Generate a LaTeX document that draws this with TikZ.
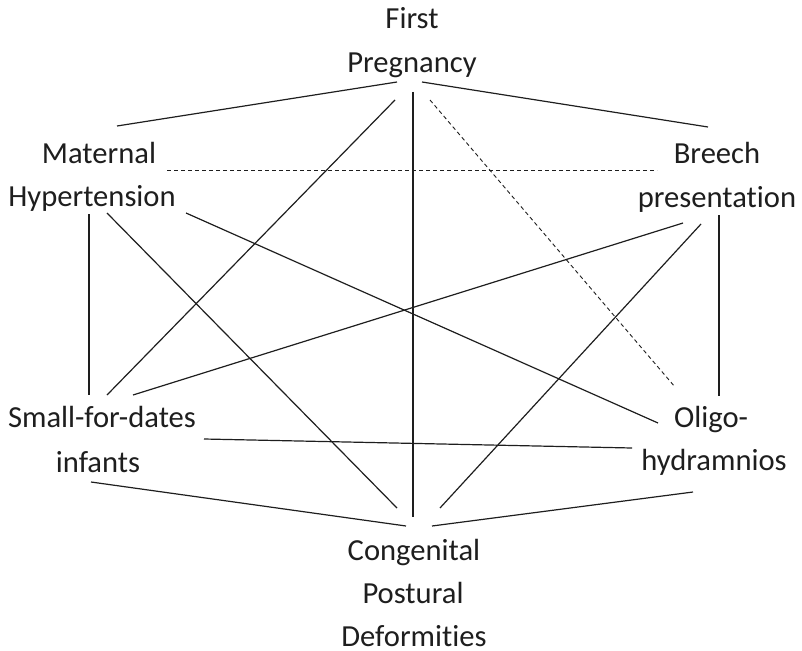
\documentclass[tikz,border=0pt]{standalone}
\usepackage{fontspec}
\setmainfont[Ligatures=NoCommon]{Carlito}
\usetikzlibrary{calc}
\definecolor{ink}{HTML}{1E1E1E}
\tikzset{
  lbl/.style={anchor=base, inner sep=0pt, text=ink, font=\fontsize{30.6}{36}\selectfont},
  link/.style={draw=ink, line width=1.2pt},
  dlink/.style={link, line width=0.9pt, dash pattern=on 4pt off 3pt}
}
\begin{document}
\begin{tikzpicture}[x=1pt,y=-1pt]
\useasboundingbox (0,0) rectangle (802,650);
% nodes (one per printed line)
\node[lbl] (fp1) at (412,29) {First};
\node[lbl] (fp2) at (412,73) {Pregnancy};
\node[lbl] (mh1) at (99,163) {Maternal};
\node[lbl] (mh2) at (92,206) {Hypertension};
\node[lbl] (bp1) at (717,163) {Breech};
\node[lbl] (bp2) at (717,207) {presentation};
\node[lbl] (sf1) at (102,427) {Small-for-dates};
\node[lbl] (sf2) at (98,472) {infants};
\node[lbl] (ol1) at (711,427) {Oligo-};
\node[lbl] (ol2) at (714,470) {hydramnios};
\node[lbl] (cp1) at (414,560) {Congenital};
\node[lbl] (cp2) at (413,603) {Postural};
\node[lbl] (cp3) at (414,646) {Deformities};
% connectors
\draw[link] ($(fp2.base)+(-15,9)$) -- ($(mh1.base)+(18,-37)$);
\draw[link] ($(fp2.base)+(10,9)$) -- ($(bp1.base)+(-9,-36)$);
\draw[link] ($(fp2.base)+(1,19)$) -- ($(cp1.base)+(-1,-43)$);
\draw[link] ($(fp2.base)+(-17,27)$) -- ($(sf1.base)+(5,-32)$);
\draw[dlink] ($(fp2.base)+(18,27)$) -- ($(ol1.base)+(-36,-40)$);
\draw[dlink] ($(mh1.base)+(68,7)$) -- ($(bp1.base)+(-60,7)$);
\draw[link] ($(mh2.base)+(-3,8)$) -- ($(sf1.base)+(-13,-32)$);
\draw[link] ($(mh2.base)+(15,7)$) -- ($(cp1.base)+(-17,-52)$);
\draw[link] ($(mh2.base)+(94,7)$) -- ($(ol1.base)+(-53,-4)$);
\draw[link] ($(bp2.base)+(-34,16)$) -- ($(sf1.base)+(31,-32)$);
\draw[link] ($(bp2.base)+(-16,17)$) -- ($(cp1.base)+(26,-52)$);
\draw[link] ($(bp2.base)+(2,8)$) -- ($(ol1.base)+(8,-31)$);
\draw[link] ($(sf1.base)+(102,12)$) -- ($(ol2.base)+(-82,-22)$);
\draw[link] ($(sf2.base)+(-7,10)$) -- ($(cp1.base)+(-8,-34)$);
\draw[link] ($(ol2.base)+(-21,22)$) -- ($(cp1.base)+(18,-34)$);
\end{tikzpicture}
\end{document}
